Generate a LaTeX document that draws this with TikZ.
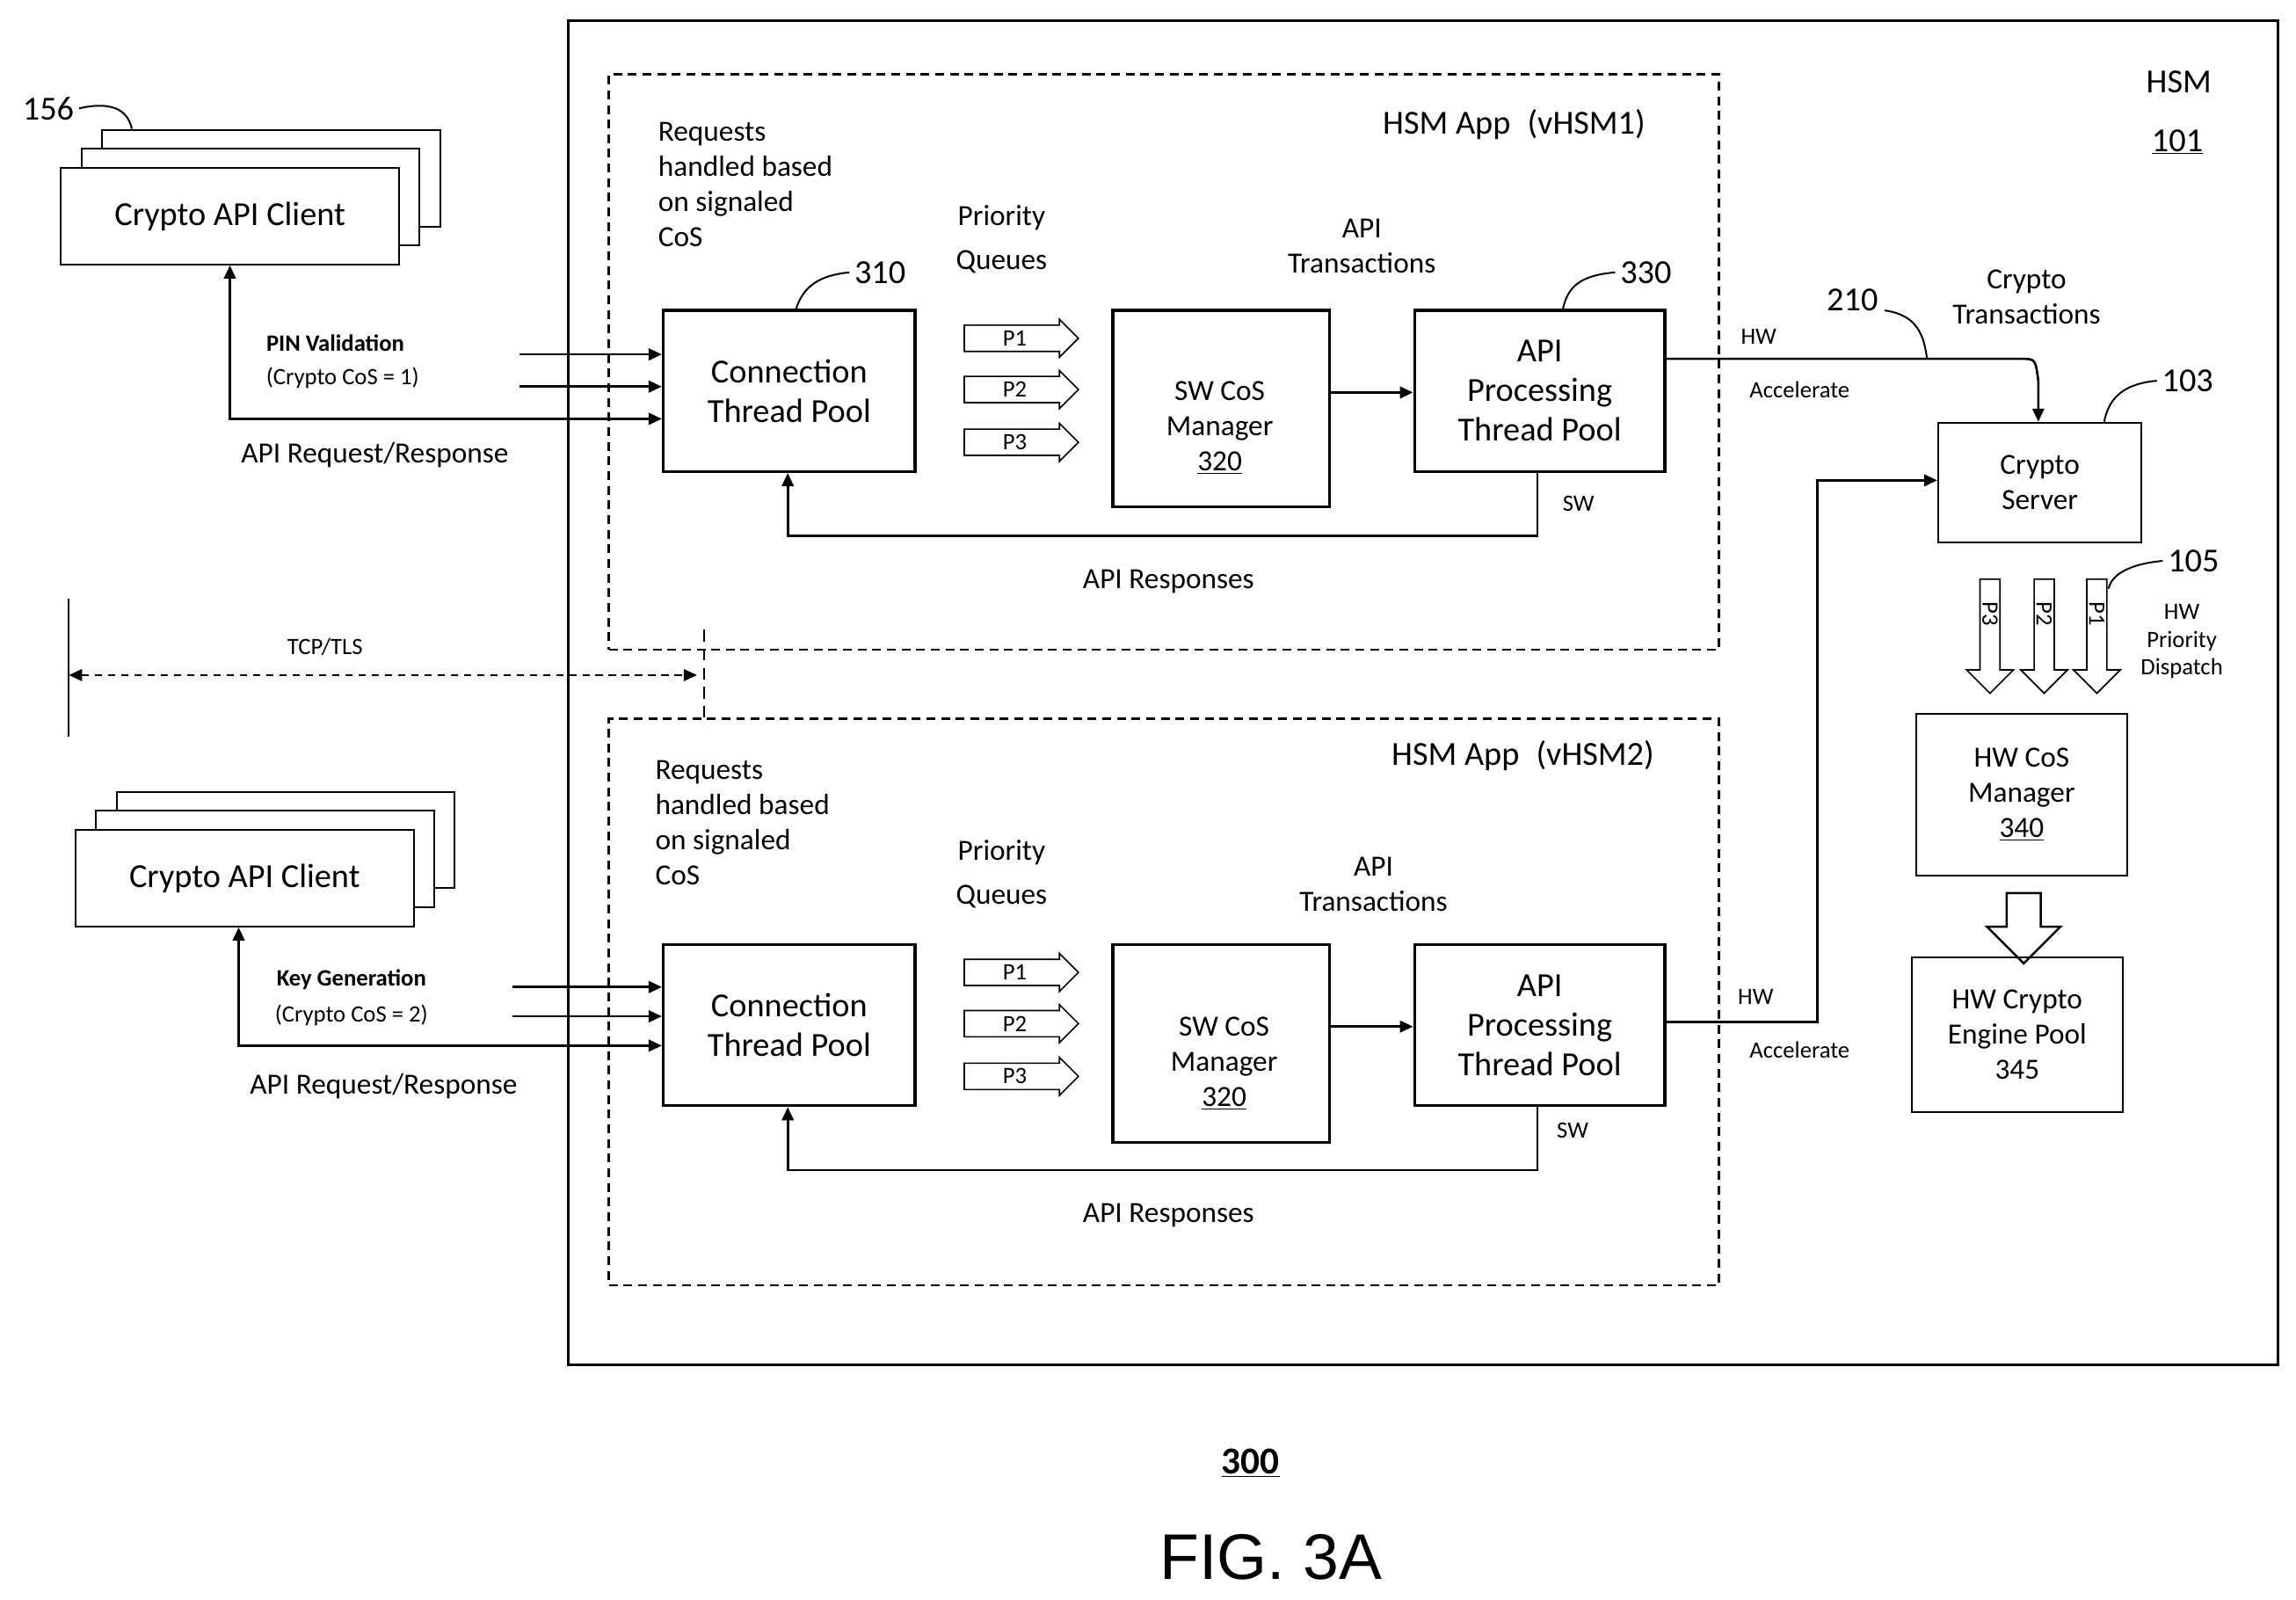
\documentclass[tikz,border=0pt]{standalone}
\usepackage{fontspec}
\setmainfont{Carlito}
\newfontfamily\arialf{Liberation Sans}
\usetikzlibrary{shapes.arrows,arrows.meta}
\begin{document}
\begin{tikzpicture}[x=1pt,y=-1pt,
 box/.style={draw,line width=2pt},
 thin box/.style={draw,line width=1.2pt,fill=white},
 dbox/.style={draw,line width=1.5pt,dash pattern=on 6pt off 4pt},
 conn/.style={line width=1.6pt,-{Triangle[length=9pt,width=8pt]}},
 big/.style={font=\fontsize{23}{27}\selectfont},
 med/.style={font=\fontsize{20}{24}\selectfont},
 sm/.style={font=\fontsize{16}{19}\selectfont},
 pq/.style={single arrow,draw,line width=1pt,minimum width=26pt,single arrow head extend=3pt,minimum height=78pt,inner sep=1pt,font=\fontsize{16}{16}\selectfont},
 pd/.style={single arrow,draw,line width=1pt,shape border rotate=270,minimum width=32pt,single arrow head extend=2pt,minimum height=78pt,inner sep=1pt},
 lead/.style={line width=1.2pt}]
\useasboundingbox (0,0) rectangle (1568,1092);
% outer HSM
\node[box,minimum width=1168pt,minimum height=918pt,line width=1.8pt,anchor=north west] (hsm) at (387,13) {};
\node[big] (hsmt) at (1488,56) {HSM};
\node[big] (hsmn) at (1487,97) {\underline{101}};
\node[dbox,minimum width=758pt,minimum height=393pt,anchor=north west] (v1) at (415,50) {};
\node[dbox,minimum width=758pt,minimum height=387pt,anchor=north west] (v2) at (415,490) {};
\node[big] (v1t) at (1034,85) {HSM App\enspace(vHSM1)};
\node[big] (v2t) at (1040,516) {HSM App\enspace(vHSM2)};

% clients
\foreach \n/\x/\y in {a/41/114,b/51/566}{
 \node[thin box,minimum width=231pt,minimum height=66pt,anchor=north west] (\n3) at (\x+28,\y-26) {};
 \node[thin box,minimum width=231pt,minimum height=66pt,anchor=north west] (\n2) at (\x+14,\y-13) {};
 \node[thin box,minimum width=231pt,minimum height=66pt,anchor=north west,big] (\n1) at (\x,\y) {Crypto API Client};
}
\node[big] (l156) at (33,74) {156};
\draw[lead] (l156.east) .. controls (80,68) and (88,78) .. (a3.north west -| 90,0);

% rows
\foreach \r/\dy/\req/\rx in {1/0/0/448,2/433/436/446}{
 \node[box,minimum width=172pt,minimum height=110pt,anchor=north west,big,align=center] (cp\r) at (452,211+\dy) {Connection\\Thread Pool};
 \node[box,minimum width=148pt,minimum height=133pt+\r pt,anchor=north west] (sw\r) at (759,211+\dy) {};
 \node[box,minimum width=171pt,minimum height=110pt,anchor=north west,big,align=center] (ap\r) at (965,211+\dy) {API\\Processing\\Thread Pool};
 \node[pq] (p1\r) at (693,231+\dy) {P1};
 \node[pq] (p2\r) at (693,266+\dy) {P2};
 \node[pq] (p3\r) at (693,302+\dy) {P3};
 \node[med] (pqa\r) at (684,149+\dy) {Priority};
 \node[med] (pqb\r) at (684,179+\dy) {Queues};
 \node[med,align=left,anchor=north west] (rq\r) at (\rx-2,80+\req) {Requests\\handled based\\on signaled\\CoS};
 \draw[conn] (sw\r.east |- 0,268+\dy) -- (ap\r.west |- 0,268+\dy);
 \coordinate (sa\r) at (1050,366+\dy);
 \coordinate (sb\r) at (538,366+\dy);
 \draw[conn] (ap\r.south -| 1050,0) -- (sa\r) -- (sb\r) -- (cp\r.south -| 538,0);
 \node[med] (ar\r) at (798,397+\dy) {API Responses};
}
\node[med,align=center] (sw1t) at (833,292) {SW CoS\\Manager\\\underline{320}};
\node[med,align=center] (sw2t) at (836,726) {SW CoS\\Manager\\\underline{320}};
\node[sm] at (1078,344) {SW};
\node[sm] at (1074,772) {SW};
\node[med,align=center] (at1) at (930,168) {API\\Transactions};
\node[med,align=center] (at2) at (938,604) {API\\Transactions};
\node[big] (l310) at (601,186) {310};
\draw[lead] (l310.west) .. controls (560,188) and (548,195) .. (543,213);
\node[big] (l330) at (1124,186) {330};
\draw[lead] (l330.west) .. controls (1080,188) and (1070,195) .. (1067,213);

% client 1 links
\foreach \y in {242,264}{\draw[conn] (355,\y) coordinate (i\y) -- (cp1.west |- 0,\y);}
\coordinate (c1) at (157,286);
\draw[line width=1.6pt,{Triangle[length=9pt,width=8pt]}-{Triangle[length=9pt,width=8pt]}] (a1.south -| 157,0) -- (c1) -- (cp1.west |- 0,286);
\node[sm,font=\fontsize{16}{19}\selectfont\bfseries] at (229,234) {PIN Validation};
\node[sm] at (234,258) {(Crypto CoS = 1)};
\node[med] at (256,311) {API Request/Response};
% client 2 links
\foreach \y in {674,694}{\draw[conn] (350,\y) coordinate (j\y) -- (cp2.west |- 0,\y);}
\coordinate (c2) at (163,714);
\draw[line width=1.6pt,{Triangle[length=9pt,width=8pt]}-{Triangle[length=9pt,width=8pt]}] (b1.south -| 163,0) -- (c2) -- (cp2.west |- 0,714);
\node[sm,font=\fontsize{16}{19}\selectfont\bfseries] at (240,669) {Key Generation};
\node[sm] at (240,693) {(Crypto CoS = 2)};
\node[med] at (262,742) {API Request/Response};

% TCP/TLS
\coordinate (t1) at (47,409); \coordinate (t2) at (47,503);
\draw[line width=1pt] (t1) -- (t2);
\coordinate (ta) at (47,461); \coordinate (tb) at (476,461);
\draw[line width=1.2pt,dash pattern=on 5pt off 4pt,{Triangle[length=9pt,width=8pt]}-{Triangle[length=9pt,width=8pt]}] (ta) -- (tb);
\coordinate (d1) at (481,430); \coordinate (d2) at (481,495);
\draw[line width=1.2pt,dash pattern=on 8pt off 5pt] (d1) -- (d2);
\node[sm] at (222,442) {TCP/TLS};

% crypto server
\node[thin box,minimum width=139pt,minimum height=82pt,anchor=north west,med,align=center] (cs) at (1323,288) {Crypto\\Server};
\coordinate (h1) at (1380,245);
\draw[conn] (ap1.east |- 0,245) -- (h1) .. controls (1390,245) .. (1392,260) -- (cs.north -| 1392,0);
\node[sm] at (1201,230) {HW};
\node[sm] at (1229,266) {Accelerate};
\node[big] (l210) at (1265,205) {210};
\draw[lead] (1287,212) .. controls (1310,215) and (1314,230) .. (1316,245);
\node[med,align=center] at (1384,203) {Crypto\\Transactions};
\node[big] (l103) at (1494,260) {103};
\draw[lead] (l103.west) .. controls (1450,262) and (1440,272) .. (1437,288);
\coordinate (g1) at (1241,698); \coordinate (g2) at (1241,328);
\draw[conn] (ap2.east |- 0,698) -- (g1) -- (g2) -- (cs.west |- 0,328);
\node[sm] at (1199,681) {HW};
\node[sm] at (1229,717) {Accelerate};

% HW dispatch
\foreach \x/\p in {1359/P3,1396/P2,1432/P1}{
 \node[pd] (hd\p) at (\x,431) {};
 \node[sm,rotate=-90] at (\x,419) {\p};
}
\node[big] (l105) at (1498,383) {105};
\draw[lead] (l105.west) .. controls (1455,385) and (1442,392) .. (1440,402);
\node[sm,align=center] at (1490,438) {HW\\Priority\\Dispatch};
\node[thin box,minimum width=144pt,minimum height=110pt,anchor=north west,med,align=center] (hc) at (1308,487) {HW CoS\\Manager\\\underline{340}};
\node[thin box,minimum width=144pt,minimum height=106pt,anchor=north west,med,align=center] (he) at (1305,653) {HW Crypto\\Engine Pool\\345};
\node[single arrow,draw,line width=1.5pt,shape border rotate=270,minimum width=50pt,single arrow head extend=2pt,minimum height=48pt,inner sep=1pt] (hce) at (1382,628) {};

% captions
\node[font=\fontsize{26}{30}\selectfont\bfseries] at (854,999) {\underline{300}};
\node[font=\arialf\fontsize{44}{50}\selectfont] at (868,1063) {FIG. 3A};
\end{tikzpicture}
\end{document}
